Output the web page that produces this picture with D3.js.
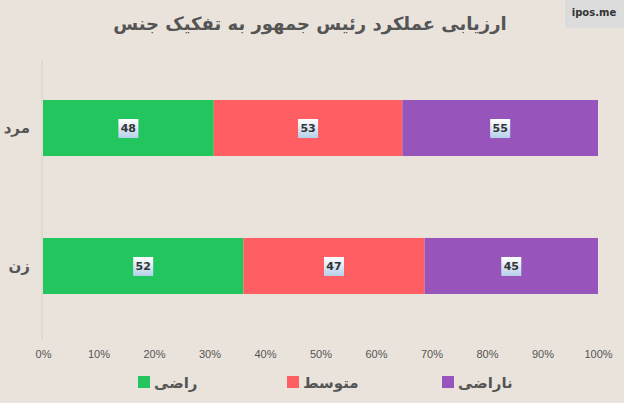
<!DOCTYPE html>
<html><head><meta charset="utf-8">
<script src="https://cdn.jsdelivr.net/npm/d3@7"></script>
<style>
body{margin:0;background:#EAE3DC;}
svg{display:block;font-family:"DejaVu Sans","Noto Sans",sans-serif;}
</style></head><body>
<svg id="c" width="624" height="403"></svg>
<script>
const categories = ["مرد", "زن"];
const seriesNames = ["راضی", "متوسط", "ناراضی"];
const satisfied = [48, 52];
const medium = [53, 47];
const dissatisfied = [55, 45];
const tickLabels = ["0%","10%","20%","30%","40%","50%","60%","70%","80%","90%","100%"];
const colors = ["#22C55E", "#FF5F63", "#9755BC"];
const title = "ارزیابی عملکرد رئیس جمهور به تفکیک جنس";

const svg = d3.select("#c");
const defs = svg.append("defs");
const g = defs.append("linearGradient").attr("id","lbl").attr("x1",0).attr("y1",0).attr("x2",0).attr("y2",1);
g.append("stop").attr("offset","0%").attr("stop-color","#FFFFFF");
g.append("stop").attr("offset","100%").attr("stop-color","#B5D0EA");

const x = d3.scaleLinear().domain([0,1]).range([43,598]);
const y = d3.scaleBand().domain(categories).range([60,334]).paddingInner(0.594).paddingOuter(0.29);

// watermark
svg.append("rect").attr("x",565).attr("y",0).attr("width",59).attr("height",28).attr("fill","#DCDCDC");
svg.append("text").attr("x",594).attr("y",16).attr("text-anchor","middle").attr("font-size",10).attr("font-weight","bold").attr("fill","#333").text("ipos.me");

svg.append("text").attr("x",310).attr("y",30).attr("text-anchor","middle").attr("font-size",18).attr("font-weight","bold").attr("fill","#555").text(title);

// axis line
svg.append("line").attr("x1",42).attr("x2",42).attr("y1",60).attr("y2",340).attr("stroke","#D6D0CA").attr("stroke-width",1);

const rows = categories.map((c,i)=>{
  const vals=[satisfied[i],medium[i],dissatisfied[i]];
  const tot=d3.sum(vals);
  let acc=0;
  return vals.map((v,j)=>{const s=acc/tot; acc+=v; return {cat:c,v,j,x0:s,x1:acc/tot};});
});

rows.forEach(r=>{
  r.forEach(d=>{
    svg.append("rect").attr("x",x(d.x0)).attr("y",y(d.cat)).attr("width",x(d.x1)-x(d.x0)).attr("height",y.bandwidth()).attr("fill",colors[d.j]);
  });
  r.forEach(d=>{
    const cx=(x(d.x0)+x(d.x1))/2, cy=y(d.cat)+y.bandwidth()/2;
    svg.append("rect").attr("x",cx-10).attr("y",cy-9).attr("width",20).attr("height",19).attr("fill","url(#lbl)");
    svg.append("text").attr("x",cx).attr("y",cy+4).attr("text-anchor","middle").attr("font-size",11).attr("font-weight","bold").attr("fill","#333").text(d.v);
  });
});

// category labels
categories.forEach(c=>{
  svg.append("text").attr("x",30).attr("y",y(c)+y.bandwidth()/2+5).attr("text-anchor","end").attr("font-size",15).attr("font-weight","bold").attr("fill","#555").text(c);
});

// x axis
const ax = svg.append("g").attr("transform","translate(0,340)")
  .call(d3.axisBottom(x).tickValues(d3.range(11).map(i=>i/10)).tickFormat((d,i)=>tickLabels[i]).tickSize(0).tickPadding(10));
ax.select(".domain").remove();
ax.selectAll("text").attr("font-size",11).attr("fill","#555").attr("font-family","Liberation Sans, Arial, sans-serif");

// legend
const legX=[138,287,442];
seriesNames.forEach((n,i)=>{
  svg.append("rect").attr("x",legX[i]).attr("y",376).attr("width",12).attr("height",12).attr("fill",colors[i]);
  svg.append("text").attr("x",legX[i]+16).attr("y",388).attr("text-anchor","start").attr("font-size",15).attr("font-weight","bold").attr("fill","#555").attr("direction","ltr").attr("unicode-bidi","plaintext").text(n);
});
</script></body></html>
